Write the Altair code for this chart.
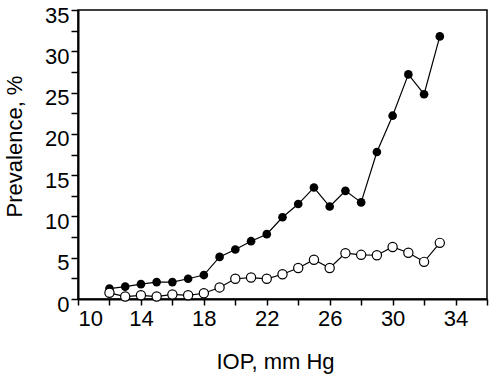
import altair as alt
import pandas as pd

iop = list(range(12, 34))
filled = [1.25, 1.5, 1.8, 2.05, 2.05, 2.45, 2.9, 5.1, 6.0, 7.0, 7.85,
          9.9, 11.5, 13.5, 11.2, 13.1, 11.7, 17.8, 22.2, 27.2, 24.8, 31.8]
open_ = [0.75, 0.3, 0.45, 0.3, 0.55, 0.45, 0.7, 1.4, 2.45, 2.6, 2.45,
         3.0, 3.75, 4.75, 3.75, 5.55, 5.35, 5.3, 6.3, 5.6, 4.5, 6.8]

df = pd.DataFrame({
    "IOP": iop * 2,
    "Prevalence": filled + open_,
    "Series": ["filled"] * len(iop) + ["open"] * len(iop),
})

FONT = "Liberation Sans"

x = alt.X("IOP:Q", scale=alt.Scale(domain=[10, 36], nice=False, zero=False),
          axis=alt.Axis(title="IOP, mm Hg", values=list(range(10, 37, 2)),
                        labelExpr="(datum.value - 10) % 4 == 0 && datum.value < 36 ? datum.label : ''",
                        grid=False, tickSize=6, labelPadding=3, titlePadding=22,
                        titleX=197))
y = alt.Y("Prevalence:Q", scale=alt.Scale(domain=[0, 35], nice=False),
          axis=alt.Axis(title="Prevalence, %", values=[i * 2.5 for i in range(15)],
                        labelExpr="datum.value % 5 == 0 ? datum.label : ''",
                        grid=False, tickSize=7, labelPadding=2, labelOffset=5,
                        titlePadding=18, titleY=136))

lines = alt.Chart(df).mark_line(color="black", strokeWidth=1.2).encode(
    x=x, y=y, detail="Series:N")

pts_f = alt.Chart(df).transform_filter("datum.Series == 'filled'").mark_point(
    filled=True, color="black", size=75, opacity=1).encode(x=x, y=y)
pts_o = alt.Chart(df).transform_filter("datum.Series == 'open'").mark_point(
    filled=True, fill="white", stroke="black", strokeWidth=1.2, size=85, opacity=1).encode(x=x, y=y)

chart = alt.layer(lines, pts_f, pts_o).properties(
    width=409, height=289,
    background="white",
    autosize=alt.AutoSizeParams(type="none"),
    padding={"left": 78, "top": 10, "right": 7, "bottom": 78},
).configure_view(stroke="black", strokeWidth=1.5).configure_axis(
    domainColor="black", domainWidth=2, tickColor="black", tickWidth=1.5,
    labelColor="black", titleColor="black", labelFont=FONT, titleFont=FONT,
    labelFontSize=22, titleFontSize=22, titleFontWeight="normal",
)

chart.save("out.html", embed_options={"renderer": "svg", "actions": False})
